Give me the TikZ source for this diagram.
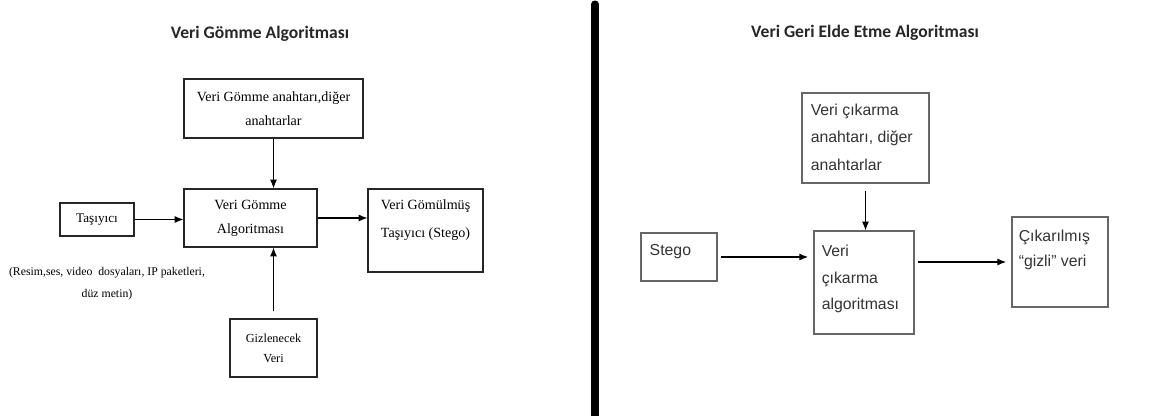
\documentclass[tikz,border=0pt]{standalone}
\usepackage{fontspec}
\setmainfont{Liberation Serif}
\newfontfamily\arialfont{Liberation Sans}
\newfontfamily\titlefont{Carlito}
\usetikzlibrary{arrows.meta}

\begin{document}
\begin{tikzpicture}[
        box/.style={rectangle, draw=black!85, line width=0.7pt, inner sep=2pt, align=center, font=\fontsize{8}{13.6}\selectfont},
        rbox/.style={rectangle, draw=black!60, line width=0.7pt, inner sep=0pt},
        intext/.style={anchor=north west, align=left, inner sep=0pt, text=black!80, font=\arialfont\fontsize{9}{15.5}\selectfont},
        heading/.style={text=black!85, font=\titlefont\bfseries\fontsize{10}{12}\selectfont},
        arrow/.style={-{Latex[length=5pt,width=4pt]}, line width=0.6pt}
    ]
        \useasboundingbox (0,0) rectangle (23.36,8.32);

        % embedding side
        \node[heading] (titleL) at (5.2,7.64) {Veri Gömme Algoritması};
        \node[box, minimum width=3.58cm, minimum height=1.18cm] (keyL) at (5.47,6.15) {Veri Gömme anahtarı,diğer\\anahtarlar};
        \node[box, minimum width=2.66cm, minimum height=1.16cm] (algoL) at (5.01,3.96) {Veri Gömme\\Algoritması};
        \node[box, minimum width=1.48cm, minimum height=0.66cm, font=\fontsize{7.5}{12}\selectfont] (carrier) at (1.94,3.93) {Taşıyıcı};
        \node[box, minimum width=2.3cm, minimum height=1.66cm] (stegoL) at (8.51,3.71) {};
        \node[align=center, inner sep=0pt, font=\fontsize{8}{15.9}\selectfont] (stegoLtext) at ([yshift=-0.22cm]stegoL.north) [anchor=north] {Veri Gömülmüş\\Taşıyıcı (Stego)};
        \node[align=center, font=\fontsize{6.7}{12.5}\selectfont] (media) at (2.14,2.64) {(Resim,ses, video \ dosyaları, IP paketleri,\\düz metin)};
        \node[box, minimum width=1.74cm, minimum height=1.16cm, font=\fontsize{7}{11.3}\selectfont] (hidden) at (5.47,1.36) {Gizlenecek\\Veri};

        \draw[arrow] (keyL.south) -- (keyL.south |- algoL.north);
        \draw[arrow] (carrier) -- (carrier -| algoL.west);
        \draw[arrow] (algoL) -- (algoL -| stegoL.west);
        \draw[arrow, shorten <=4pt] (hidden.north) -- (hidden.north |- algoL.south);

        % divider
        \draw[line width=4pt, line cap=round] (11.9,8.24) coordinate (divtop) -- (11.9,0) coordinate (divbottom);

        % extraction side
        \node[heading] (titleR) at (17.3,7.66) {Veri Geri Elde Etme Algoritması};
        \node[rbox, minimum width=2.54cm, minimum height=1.8cm] (keyR) at (17.31,5.56) {};
        \node[intext, font=\arialfont\fontsize{9}{15.6}\selectfont] (keyRtext) at ([xshift=0.18cm, yshift=-0.22cm]keyR.north west) {Veri çıkarma\\anahtarı, diğer\\anahtarlar};
        \node[rbox, minimum width=1.52cm, minimum height=0.96cm] (stegoR) at (13.58,3.18) {};
        \node[intext] (stegoRtext) at ([xshift=0.18cm, yshift=-0.24cm]stegoR.north west) {Stego};
        \node[rbox, minimum width=2.0cm, minimum height=2.06cm] (algoR) at (17.28,2.67) {};
        \node[intext, font=\arialfont\fontsize{9}{15.3}\selectfont] (algoRtext) at ([xshift=0.16cm, yshift=-0.28cm]algoR.north west) {Veri\\çıkarma\\algoritması};
        \node[rbox, minimum width=1.92cm, minimum height=1.8cm] (outR) at (21.2,3.08) {};
        \node[intext, font=\arialfont\fontsize{9}{14.2}\selectfont] (outRtext) at ([xshift=0.14cm, yshift=-0.26cm]outR.north west) {Çıkarılmış\\“gizli” veri};

        \draw[arrow, shorten <=4pt] (keyR.south) -- (keyR.south |- algoR.north);
        \draw[arrow, shorten <=2pt, shorten >=3pt] (stegoR) -- (stegoR -| algoR.west);
        \draw[arrow, shorten <=2pt, shorten >=3pt] (outR -| algoR.east) -- (outR.west);
    \end{tikzpicture}
\end{document}
